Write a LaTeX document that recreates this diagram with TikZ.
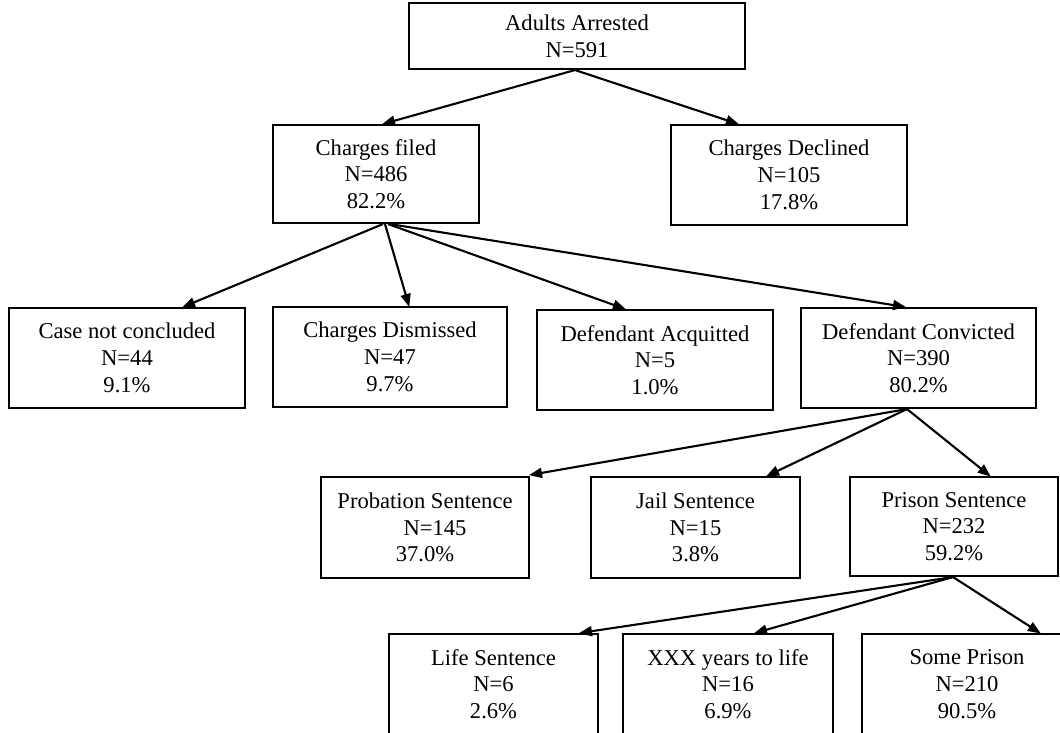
\documentclass[tikz,border=0pt]{standalone}
\usepackage{fontspec}
\setmainfont{Liberation Serif}
\usetikzlibrary{arrows.meta}
\begin{document}
\begin{tikzpicture}[x=1pt,y=-1pt,
  box/.style={draw=black,line width=2.1pt,rectangle,inner sep=0pt,align=center,
    font=\fontsize{22.6}{26.7}\selectfont,text=black},
  arr/.style={line width=2.1pt,draw=black,-{Triangle[length=13pt,width=10pt]},shorten >=-1pt}]
\clip (0,0) rectangle (1060,733);
\fill[white] (0,0) rectangle (1060,733);
\node[box,minimum width=336pt,minimum height=66pt] (AA) at (577,36) {Adults Arrested\\N=591};
\node[box,minimum width=206pt,minimum height=98pt] (CF) at (376,174) {Charges filed\\N=486\\82.2\%};
\node[box,minimum width=236pt,minimum height=100pt] (CD) at (789,175) {Charges Declined\\N=105\\17.8\%};
\node[box,minimum width=236pt,minimum height=100pt] (CNC) at (127,358) {Case not concluded\\N=44\\9.1\%};
\node[box,minimum width=234pt,minimum height=100pt] (CDis) at (390,357) {Charges Dismissed\\N=47\\9.7\%};
\node[box,minimum width=236pt,minimum height=100pt] (DA) at (655,360) {Defendant Acquitted\\N=5\\1.0\%};
\node[box,minimum width=235pt,minimum height=100pt] (DC) at (918.5,358) {Defendant Convicted\\N=390\\80.2\%};
\node[box,minimum width=208pt,minimum height=101pt] (PS) at (425,527.5) {Probation Sentence\\\hspace*{20pt}N=145\\37.0\%};
\node[box,minimum width=209pt,minimum height=101pt] (JS) at (695.5,527.5) {Jail Sentence\\N=15\\3.8\%};
\node[box,minimum width=208pt,minimum height=99pt] (PrS) at (954,526.5) {Prison Sentence\\N=232\\59.2\%};
\node[box,minimum width=209pt,minimum height=100pt] (LS) at (493.5,684) {Life Sentence\\N=6\\2.6\%};
\node[box,minimum width=210pt,minimum height=100pt] (XXX) at (728,684) {XXX years to life\\N=16\\6.9\%};
\node[box,minimum width=210pt,minimum height=100pt] (SP) at (967,684) {Some Prison\\N=210\\90.5\%};
% connectors
\draw[arr] ([xshift=-2pt]AA.south) -- ([xshift=7pt]CF.north);
\draw[arr] ([xshift=-2pt]AA.south) -- ([xshift=-51pt]CD.north);
\draw[arr] ([xshift=7pt]CF.south) -- ([xshift=56pt]CNC.north);
\draw[arr] ([xshift=9pt]CF.south) -- ([xshift=19pt]CDis.north);
\draw[arr] ([xshift=12pt]CF.south) -- ([xshift=-30pt]DA.north);
\draw[arr] ([xshift=14pt]CF.south) -- ([xshift=-13.5pt]DC.north);
\draw[arr] ([xshift=-11.5pt]DC.south) -- ([xshift=105pt,yshift=1pt]PS.north);
\draw[arr] ([xshift=-11.5pt]DC.south) -- ([xshift=71.5pt]JS.north);
\draw[arr] ([xshift=-11.5pt]DC.south) -- ([xshift=36pt]PrS.north);
\draw[arr] ([xshift=-1pt]PrS.south) -- ([xshift=86.5pt]LS.north);
\draw[arr] ([xshift=-1pt]PrS.south) -- ([xshift=27pt]XXX.north);
\draw[arr] ([xshift=-1pt]PrS.south) -- ([xshift=73pt]SP.north);
\end{tikzpicture}
\end{document}
